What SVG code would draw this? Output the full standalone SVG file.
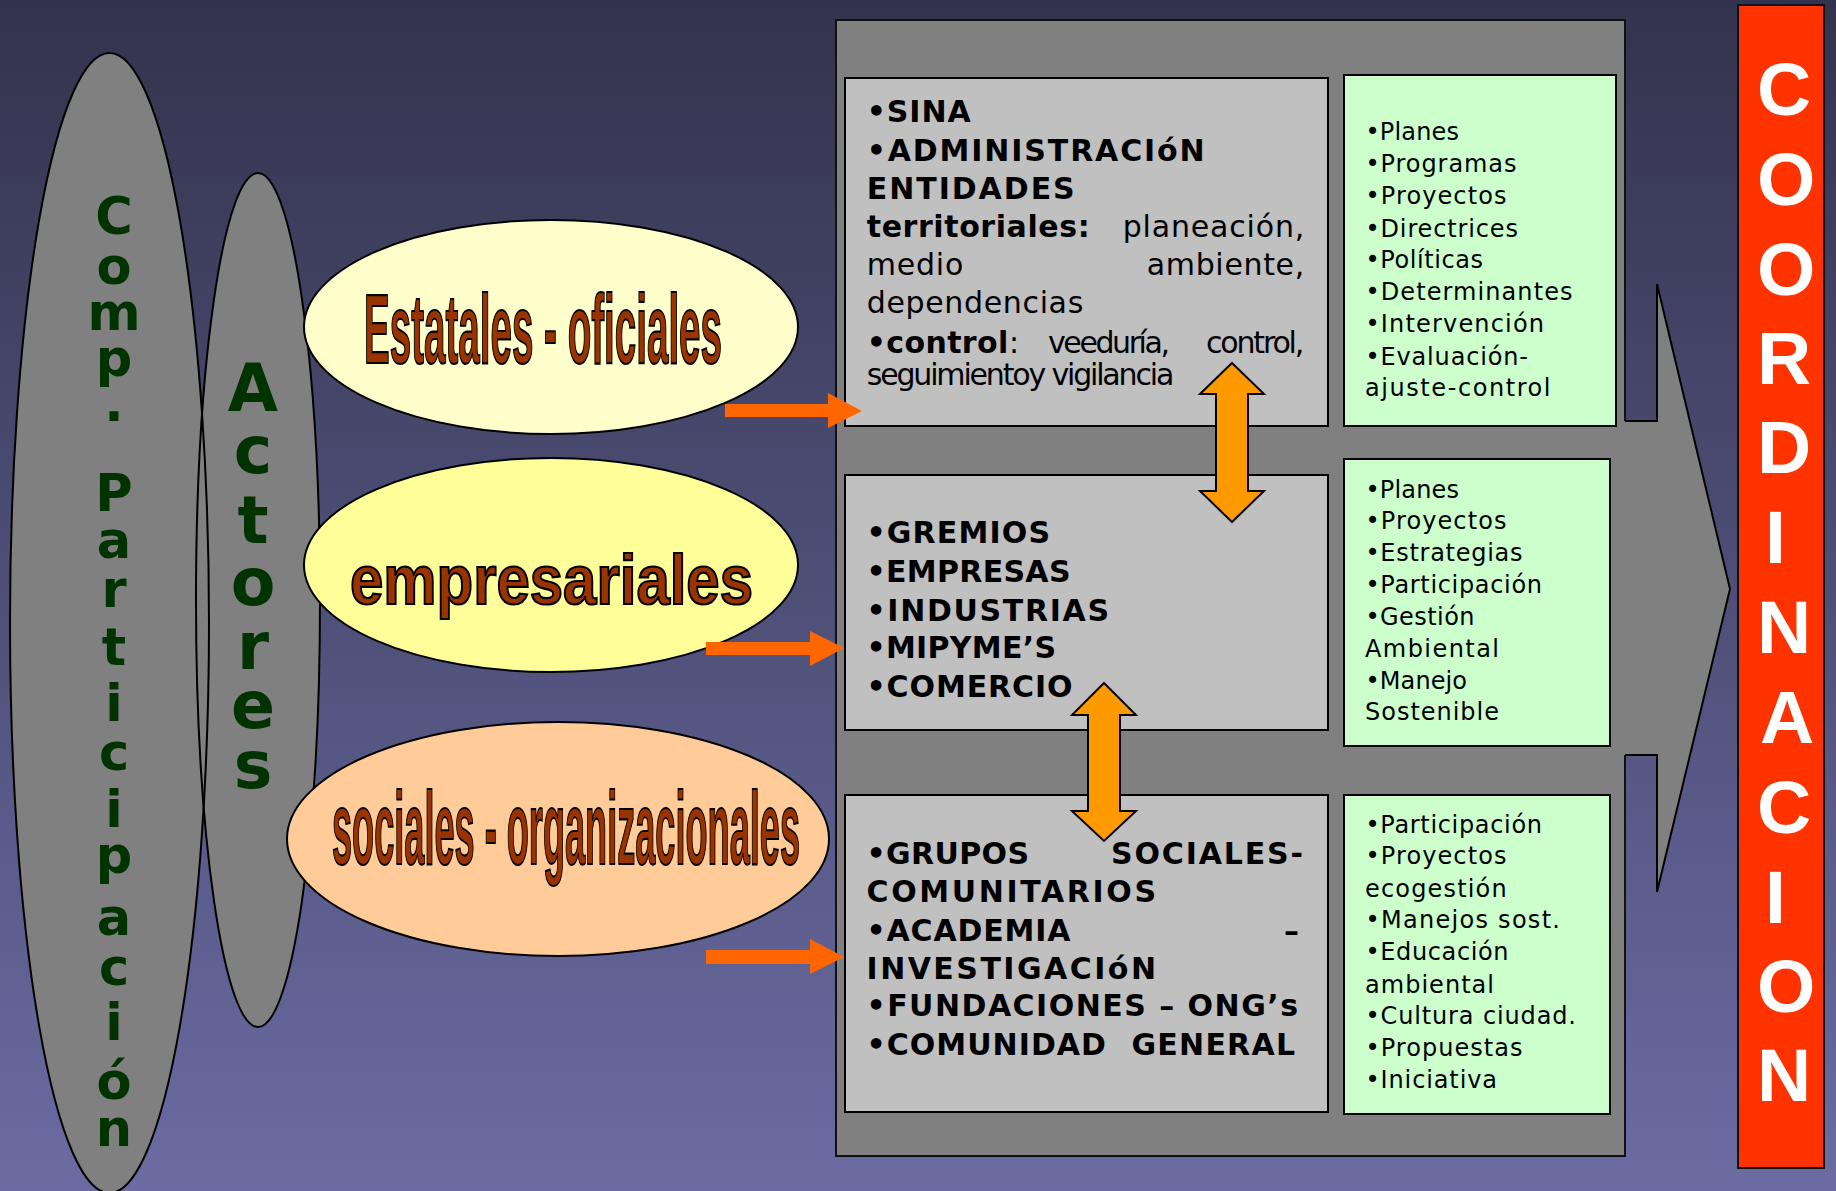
<svg xmlns="http://www.w3.org/2000/svg" width="1836" height="1191" viewBox="0 0 1836 1191">
<defs>
<linearGradient id="bg" x1="0" y1="0" x2="0" y2="1">
<stop offset="0" stop-color="#33334d"/>
<stop offset="1" stop-color="#6a6ca3"/>
</linearGradient>
</defs>
<style>
.ol{stroke:#000;stroke-width:2}
.gray{fill:#808080}
.box{fill:#c0c0c0;stroke:#000;stroke-width:2}
.gbox{fill:#ccffcc;stroke:#000;stroke-width:2}
.vg{font-family:"DejaVu Sans",sans-serif;font-weight:bold;fill:#003300;text-anchor:middle}
.coord{font-family:"Liberation Sans",Arial,sans-serif;font-weight:bold;fill:#fff;font-size:75px}
.wa{font-family:"Liberation Sans",Arial,sans-serif;font-weight:bold;fill:#993300;stroke:#000;stroke-width:2.2}
.bt{font-family:"DejaVu Sans",Verdana,sans-serif;font-size:30px;fill:#000}
.b{font-weight:bold}
.gt{font-family:"DejaVu Sans",Verdana,sans-serif;font-size:24px;fill:#000}
.conn{fill:#ff6600}
.dbl{fill:#ff9900;stroke:#000;stroke-width:2}
</style>
<rect x="0" y="0" width="1836" height="1191" fill="url(#bg)"/>

<g id="comp-participacion">
<ellipse cx="109.5" cy="623" rx="99.5" ry="570" class="gray"/>
</g>
<g id="actores">
<ellipse cx="258" cy="600" rx="62" ry="427" class="gray"/>
</g>
<ellipse cx="109.5" cy="623" rx="99.5" ry="570" fill="none" class="ol"/>
<ellipse cx="258" cy="600" rx="62" ry="427" fill="none" class="ol"/>
<g id="comp-participacion-text">
<text class="vg" font-size="51" x="114">
<tspan x="114" y="234">C</tspan><tspan x="114" y="284">o</tspan><tspan x="114" y="330">m</tspan><tspan x="114" y="376">p</tspan><tspan x="114" y="421">.</tspan><tspan x="114" y="511">P</tspan><tspan x="114" y="558">a</tspan><tspan x="114" y="607">r</tspan><tspan x="114" y="665">t</tspan><tspan x="114" y="721">i</tspan><tspan x="114" y="770">c</tspan><tspan x="114" y="827">i</tspan><tspan x="114" y="873">p</tspan><tspan x="114" y="935">a</tspan><tspan x="114" y="985">c</tspan><tspan x="114" y="1040">i</tspan><tspan x="114" y="1099">ó</tspan><tspan x="114" y="1146">n</tspan>
</text>
</g>
<g id="actores-text">
<text class="vg" font-size="65" x="253">
<tspan x="253" y="411">A</tspan><tspan x="253" y="473">c</tspan><tspan x="253" y="543">t</tspan><tspan x="253" y="605">o</tspan><tspan x="253" y="669">r</tspan><tspan x="253" y="728">e</tspan><tspan x="253" y="788">s</tspan>
</text>
</g>

<g id="estatales">
<ellipse cx="551" cy="327" rx="247" ry="107" fill="#ffffcc" class="ol"/>
<text class="wa" x="364" y="363" font-size="98" textLength="358" lengthAdjust="spacingAndGlyphs">Estatales - oficiales</text>
</g>
<g id="empresariales">
<ellipse cx="551" cy="565" rx="247" ry="107" fill="#ffff99" class="ol"/>
<text class="wa" x="350" y="604" font-size="70" textLength="403" lengthAdjust="spacingAndGlyphs">empresariales</text>
</g>
<g id="sociales">
<ellipse cx="558" cy="839" rx="271" ry="117" fill="#ffcc99" class="ol"/>
<text class="wa" x="332" y="864" font-size="104" textLength="468" lengthAdjust="spacingAndGlyphs">sociales - organizacionales</text>
</g>

<g id="panel">
<rect x="836" y="20" width="789" height="1136" class="gray" stroke="#111" stroke-width="2"/>
</g>
<g id="coordination-arrow">
<path d="M1623,421 L1657,421 L1657,284 L1730,589 L1657,892 L1657,755 L1623,755 Z" class="gray"/>
<path d="M1625,421 L1657,421 L1657,284 L1730,589 L1657,892 L1657,755 L1625,755" fill="none" stroke="#000" stroke-width="2"/>
</g>

<g id="box-estatales">
<rect x="845" y="78" width="483" height="348" class="box"/>
<text class="bt b" x="866.7" y="122" textLength="104">•SINA</text>
<text class="bt b" x="866.7" y="160.5" textLength="338">•ADMINISTRACIóN</text>
<text class="bt b" x="866.7" y="198.5" textLength="208">ENTIDADES</text>
<text class="bt b" x="866.7" y="236.7" textLength="223">territoriales:</text>
<text class="bt" x="1122.7" y="236.7" textLength="181.6">planeación,</text>
<text class="bt" x="866.7" y="274.5" textLength="96.6">medio</text>
<text class="bt" x="1146.7" y="274.5" textLength="157.6">ambiente,</text>
<text class="bt" x="866.7" y="313.3" textLength="216.6">dependencias</text>
<text class="bt b" x="866.7" y="353.3" font-size="33" textLength="141.6">•control</text>
<text class="bt" x="1009" y="353.3" font-size="26">:</text>
<text class="bt" x="1048" y="353.3" font-size="26" textLength="122">veeduría,</text>
<text class="bt" x="1206" y="353.3" font-size="26" textLength="98.3">control,</text>
<text class="bt" x="866.7" y="385" font-size="25" textLength="307.6">seguimientoy vigilancia</text>
</g>
<g id="box-empresariales">
<rect x="845" y="475" width="483" height="255" class="box"/>
<text class="bt b" x="866.5" y="543.4" textLength="183.5">•GREMIOS</text>
<text class="bt b" x="866.5" y="581.7" textLength="204">•EMPRESAS</text>
<text class="bt b" x="866.5" y="620.7" textLength="242.5">•INDUSTRIAS</text>
<text class="bt b" x="866.5" y="658" textLength="189.5">•MIPYME’S</text>
<text class="bt b" x="866.5" y="696.6" textLength="206">•COMERCIO</text>
</g>
<g id="box-sociales">
<rect x="845" y="795" width="483" height="317" class="box"/>
<text class="bt b" x="866.5" y="864" textLength="162.5">•GRUPOS</text>
<text class="bt b" x="1111" y="864" textLength="192">SOCIALES-</text>
<text class="bt b" x="866.5" y="902.4" textLength="289.5">COMUNITARIOS</text>
<text class="bt b" x="866.5" y="940.7" textLength="204">•ACADEMIA</text>
<text class="bt b" x="1284" y="940.7">–</text>
<text class="bt b" x="866.5" y="979" textLength="289.5">INVESTIGACIóN</text>
<text class="bt b" x="866.5" y="1016" textLength="431.5">•FUNDACIONES – ONG’s</text>
<text class="bt b" x="866.5" y="1054.5" textLength="239.5">•COMUNIDAD</text>
<text class="bt b" x="1131.5" y="1054.5" textLength="163.5">GENERAL</text>
</g>

<g id="green-estatales">
<rect x="1344" y="75" width="272" height="351" class="gbox"/>
<text class="gt" x="1365.5" y="140" textLength="93.5">•Planes</text>
<text class="gt" x="1365.5" y="171.7" textLength="151">•Programas</text>
<text class="gt" x="1365.5" y="204" textLength="141">•Proyectos</text>
<text class="gt" x="1365.5" y="236.5" textLength="152.5">•Directrices</text>
<text class="gt" x="1365.5" y="268.3" textLength="117.5">•Políticas</text>
<text class="gt" x="1365.5" y="300" textLength="207">•Determinantes</text>
<text class="gt" x="1365.5" y="332.3" textLength="178.5">•Intervención</text>
<text class="gt" x="1365.5" y="364.5" textLength="162.5">•Evaluación-</text>
<text class="gt" x="1365" y="396" textLength="185.5">ajuste-control</text>
</g>
<g id="green-empresariales">
<rect x="1344" y="459" width="266" height="287" class="gbox"/>
<text class="gt" x="1365.5" y="497.5" textLength="93.5">•Planes</text>
<text class="gt" x="1365.5" y="529" textLength="141">•Proyectos</text>
<text class="gt" x="1365.5" y="560.7" textLength="157">•Estrategias</text>
<text class="gt" x="1365.5" y="593" textLength="176.5">•Participación</text>
<text class="gt" x="1365.5" y="625" textLength="109">•Gestión</text>
<text class="gt" x="1365" y="657" textLength="134">Ambiental</text>
<text class="gt" x="1365.5" y="689" textLength="101.5">•Manejo</text>
<text class="gt" x="1365" y="720" textLength="134">Sostenible</text>
</g>
<g id="green-sociales">
<rect x="1344" y="795" width="266" height="319" class="gbox"/>
<text class="gt" x="1365.5" y="832.6" textLength="176.5">•Participación</text>
<text class="gt" x="1365.5" y="864" textLength="141">•Proyectos</text>
<text class="gt" x="1365" y="896.6" textLength="141.7">ecogestión</text>
<text class="gt" x="1365.5" y="928.4" textLength="194.5">•Manejos sost.</text>
<text class="gt" x="1365.5" y="960" textLength="143">•Educación</text>
<text class="gt" x="1365" y="992.5" textLength="129">ambiental</text>
<text class="gt" x="1365.5" y="1024" textLength="210.5">•Cultura ciudad.</text>
<text class="gt" x="1365.5" y="1055.7" textLength="157">•Propuestas</text>
<text class="gt" x="1365.5" y="1088" textLength="131.5">•Iniciativa</text>
</g>

<g id="coordinacion">
<rect x="1738" y="5" width="86" height="1163" fill="#ff3300" stroke="#111" stroke-width="2"/>
<text class="coord" x="1757" y="115">C</text>
<text class="coord" x="1757" y="205">O</text>
<text class="coord" x="1757" y="295">O</text>
<text class="coord" x="1757" y="384">R</text>
<text class="coord" x="1757" y="473">D</text>
<text class="coord" x="1765" y="563">I</text>
<text class="coord" x="1757" y="653">N</text>
<text class="coord" x="1760" y="743">A</text>
<text class="coord" x="1757" y="833">C</text>
<text class="coord" x="1765" y="923">I</text>
<text class="coord" x="1757" y="1012">O</text>
<text class="coord" x="1757" y="1101">N</text>
</g>

<g id="connectors">
<polygon class="conn" points="725,404 828,404 828,393 862,411 828,428 828,417 725,417"/>
<polygon class="conn" points="706,642 810,642 810,631 844,648 810,666 810,655 706,655"/>
<polygon class="conn" points="706,950 810,950 810,939 844,957 810,974 810,964 706,964"/>
<polygon class="dbl" points="1232,363 1264,394 1248,394 1248,491 1264,491 1232,522 1200,491 1216,491 1216,394 1200,394"/>
<polygon class="dbl" points="1104,683 1136,715 1120,715 1120,811 1136,811 1104,841 1072,811 1088,811 1088,715 1072,715"/>
</g>
</svg>
